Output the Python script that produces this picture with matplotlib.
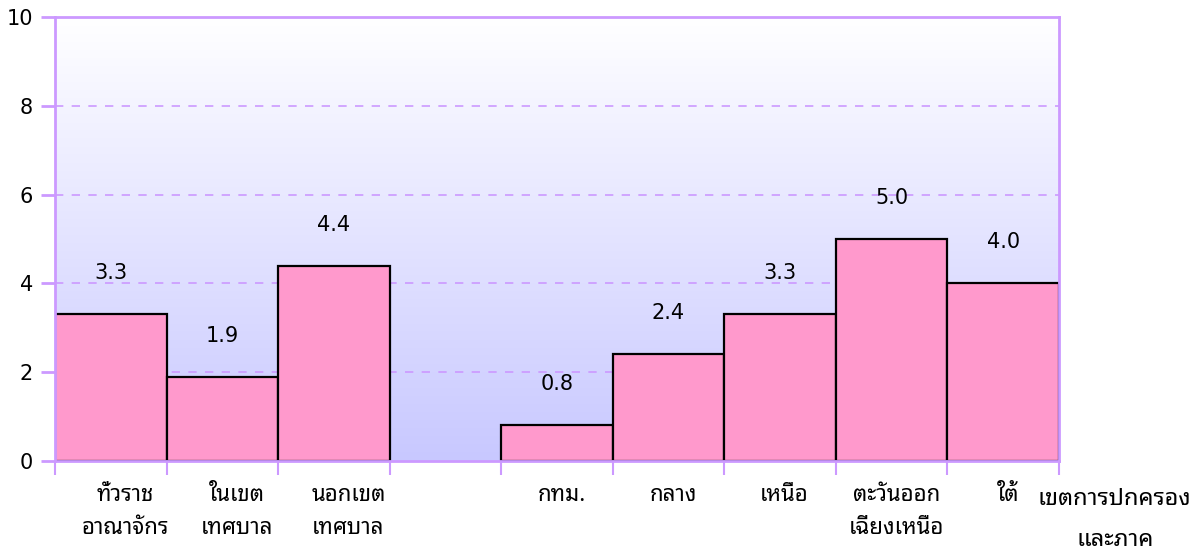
import numpy as np
import matplotlib
matplotlib.use('Agg')
import matplotlib.pyplot as plt
from matplotlib import font_manager
from matplotlib.colors import LinearSegmentedColormap

# pick a Thai font that is installed
installed = set(f.name for f in font_manager.fontManager.ttflist)
thai = 'DejaVu Sans'
for cand in ['Noto Sans Thai Looped', 'Noto Sans Thai', 'Sarabun', 'Bai Jamjuree']:
    if cand in installed:
        thai = cand
        break
plt.rcParams['font.family'] = ['DejaVu Sans', thai]

categories = ['ทั่วราช\nอาณาจักร', 'ในเขต\nเทศบาล', 'นอกเขต\nเทศบาล',
              'กทม.', 'กลาง', 'เหนือ', 'ตะวันออก\nเฉียงเหนือ', 'ใต้']
values = [3.3, 1.9, 4.4, 0.8, 2.4, 3.3, 5.0, 4.0]
slots = [0, 1, 2, 4, 5, 6, 7, 8]
xlabel = 'เขตการปกครอง\nและภาค'

purple = '#cc99ff'
fig = plt.figure(figsize=(12.04, 5.51), dpi=100)
ax = fig.add_axes([55/1204, 1-461/551, (1059-55)/1204, (461-17)/551])

# gradient background, lavender at the bottom to white at the top
cmap = LinearSegmentedColormap.from_list('bg', ['#c8c8ff', '#ffffff'])
grad = np.linspace(0, 1, 256).reshape(-1, 1)
ax.imshow(grad, cmap=cmap, aspect='auto', origin='lower',
          extent=[-0.5, 8.5, 0, 10], zorder=0)

for yv in [2, 4, 6, 8]:
    ax.axhline(yv, color=purple, lw=1.2, ls=(0, (5, 5)), zorder=1)

ax.bar(slots, values, width=1.0, color='#ff99cc', edgecolor='black', linewidth=1.6, zorder=2)
for s, v in zip(slots, values):
    ax.annotate(f'{v:.1f}', (s, v), xytext=(0, 41), textcoords='offset pixels',
                ha='center', va='center', fontsize=15)

ax.set_xlim(-0.5, 8.5)
ax.set_ylim(0, 10)
ax.set_yticks(range(0, 11, 2))
ax.tick_params(axis='y', length=10, width=2, color=purple, labelsize=15, pad=6)
bounds = [-0.5, 0.5, 1.5, 2.5, 3.5, 4.5, 5.5, 6.5, 7.5, 8.5]
ax.set_xticks(bounds)
ax.set_xticklabels([])
ax.tick_params(axis='x', length=10, width=1.5, color=purple)
for sp in ax.spines.values():
    sp.set_color(purple)
    sp.set_linewidth(2)

for i, (s, c) in enumerate(zip(slots, categories)):
    dx = 0.13 if i < 3 else 0.04
    ax.text(s + dx, -0.55, c, ha='center', va='top', fontsize=16, linespacing=1.75,
            fontweight='medium', family=[thai, 'DejaVu Sans'])
ax.text(9.0, -0.58, xlabel, ha='center', va='top', fontsize=17, fontweight='bold',
        linespacing=1.95, family=[thai, 'DejaVu Sans'], clip_on=False)

fig.savefig('out.png', dpi=100)
